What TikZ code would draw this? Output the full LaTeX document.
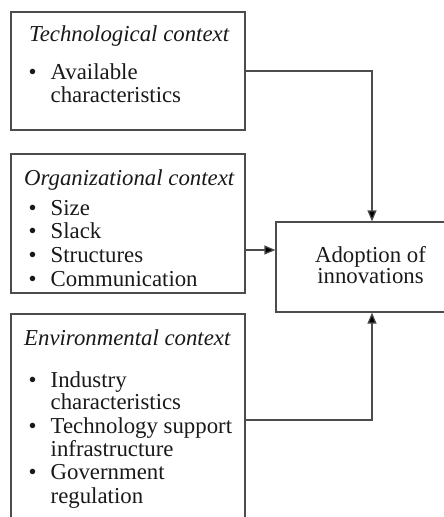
\documentclass[tikz,border=0pt]{standalone}
\usepackage{fontspec}
\setmainfont{Liberation Serif}
\usetikzlibrary{arrows.meta}
\begin{document}
\begin{tikzpicture}[x=1pt,y=-1pt,
  box/.style={draw=black!70,line width=1.2pt,rectangle,inner sep=0pt},
  txt/.style={anchor=base west,inner sep=0pt,font=\fontsize{22.8}{24}\selectfont,text=black!90},
  ttl/.style={txt,font=\fontsize{22.8}{24}\selectfont\itshape},
  bul/.style={txt},
  conn/.style={draw=black!70,line width=1.2pt,-{Triangle[length=11pt,width=9pt,fill=black]}}]
\useasboundingbox (0,0) rectangle (444,517);
\clip (0,0) rectangle (444,517);
% boxes
\node[box,minimum width=234pt,minimum height=118pt] (tech) at (128,71) {};
\node[box,minimum width=234pt,minimum height=139pt] (org) at (128,223.5) {};
\node[box,minimum width=234pt,minimum height=212pt] (env) at (128,420) {};
\node[box,minimum width=192pt,minimum height=90pt] (adopt) at (372,267) {};
% texts
\node[ttl] (t1) at (29,41) {Technological context};
\node[bul] (b11) at (28.5,79) {•};
\node[txt] (i11) at (50.5,79) {Available};
\node[txt] (i12) at (50.5,102) {characteristics};
\node[ttl] (t2) at (24,185) {Organizational context};
\node[bul] (b21) at (28.5,215) {•};
\node[txt] (i21) at (50.5,215) {Size};
\node[bul] (b22) at (28.5,238.5) {•};
\node[txt] (i22) at (50.5,238.5) {Slack};
\node[bul] (b23) at (28.5,262) {•};
\node[txt] (i23) at (50.5,262) {Structures};
\node[bul] (b24) at (28.5,286) {•};
\node[txt] (i24) at (50.5,286) {Communication};
\node[ttl] (t3) at (24,345) {Environmental context};
\node[bul] (b31) at (28.5,387) {•};
\node[txt] (i31) at (50.5,387) {Industry};
\node[txt] (i32) at (50.5,409.5) {characteristics};
\node[bul] (b33) at (28.5,433) {•};
\node[txt] (i33) at (50.5,433) {Technology support};
\node[txt] (i34) at (50.5,456.5) {infrastructure};
\node[bul] (b35) at (28.5,479.5) {•};
\node[txt] (i35) at (50.5,479.5) {Government};
\node[txt] (i36) at (50.5,503) {regulation};
\node[txt,anchor=base] (a1) at (370.5,262) {Adoption of};
\node[txt,anchor=base] (a2) at (370.5,283.5) {innovations};
% connectors
\coordinate (c1) at (tech.east -| adopt.north);
\coordinate (c3) at (env.east -| adopt.south);
\coordinate (o2) at ([yshift=-26.5pt]org.east);
\draw[conn] (tech.east) -- (c1) -- (adopt.north);
\draw[conn] (o2) -- (o2 -| adopt.west);
\draw[conn] (env.east) -- (c3) -- (adopt.south);
\end{tikzpicture}
\end{document}
